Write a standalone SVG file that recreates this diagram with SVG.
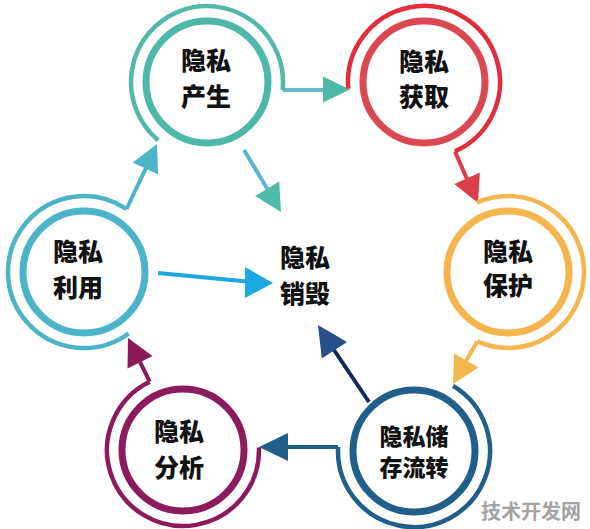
<svg xmlns="http://www.w3.org/2000/svg" width="590" height="529" viewBox="0 0 590 529">
<style>
.lbl{font-family:"Noto Sans CJK SC","Noto Sans",sans-serif;font-weight:900;font-size:25px;fill:#111;text-anchor:middle}
.out{fill:none;stroke-width:4.5;stroke-linecap:butt}
.in{fill:none;stroke-width:7}
.ln{fill:none;stroke-width:4}
.wm{font-family:"Noto Sans CJK SC","Noto Sans",sans-serif;font-weight:700;font-size:20px;fill:#a3a3a3;text-anchor:start}
</style>
<rect width="590" height="529" fill="#fff"/>
<g id="connectors">
  <!-- 产生 -> 获取 -->
  <path class="ln" d="M282.6,89.9 L325,89.9" stroke="#62BBC7"/>
  <polygon points="323,76.5 350,89.5 323,102.5" fill="#4DB8A3"/>
  <!-- 获取 -> 保护 -->
  <path class="ln" d="M454.9,151.4 L467,179" stroke="#DC3E4A"/>
  <polygon points="479.9,172.6 478,203 454.3,184" fill="#DC3E4A"/>
  <!-- 保护 -> 储存流转 -->
  <path class="ln" d="M477.1,341.4 L466,361" stroke="#F4B54C"/>
  <polygon points="478.5,367.4 453,384 454.1,353.6" fill="#F4B54C"/>
  <!-- 储存流转 -> 分析 -->
  <path class="ln" d="M338.1,447 L286,447" stroke="#1F5F89"/>
  <polygon points="288,433 259,447 288,461" fill="#1F5F89"/>
  <!-- 分析 -> 利用 -->
  <path class="ln" d="M149.7,381.7 L140,362" stroke="#8C1B5B"/>
  <polygon points="152.5,356 128,338 127.5,368.4" fill="#8C1B5B"/>
  <!-- 利用 -> 产生 -->
  <path class="ln" d="M126.5,209 L146,168" stroke="#4BB4C9"/>
  <polygon points="158.2,174.4 157,144 132.8,162.5" fill="#4BB4C9"/>
  <!-- 产生 -> 销毁 -->
  <path class="ln" d="M244,150 L268,190" stroke="#5CB3CF"/>
  <polygon points="279.2,181.6 281,212 255.2,196" fill="#4DBAA6"/>
  <!-- 利用 -> 销毁 -->
  <path class="ln" d="M158,273 L247,281.5" stroke="#1AA8E2"/>
  <polygon points="245,267 273,283 245,298" fill="#1AA8E2"/>
  <!-- 储存流转 -> 销毁 -->
  <path class="ln" d="M369,402 L334,350" stroke="#16285A"/>
  <polygon points="347,342 318,325 321.8,358.4" fill="#274F8B"/>
</g>
<g id="node-chansheng">
  <circle class="in" cx="207" cy="82" r="61" stroke="#4DB8A6"/>
  <path class="out" d="M158.1,140.2 A76,76 0 1 1 282.6,89.9" stroke="#52B9A8"/>
  <text class="lbl" x="206" y="70">隐私</text>
  <text class="lbl" x="206" y="106">产生</text>
</g>
<g id="node-huoqu">
  <circle class="in" cx="424" cy="82" r="61" stroke="#DC4851"/>
  <path class="out" d="M348.3,88.6 A76,76 0 1 1 454.9,151.4" stroke="#E22E3C"/>
  <text class="lbl" x="424" y="71">隐私</text>
  <text class="lbl" x="424" y="106">获取</text>
</g>
<g id="node-baohu">
  <circle class="in" cx="508" cy="272" r="61" stroke="#F4B54C"/>
  <path class="out" d="M477.1,202.6 A76,76 0 1 1 477.1,341.4" stroke="#F4B54C"/>
  <text class="lbl" x="508" y="261">隐私</text>
  <text class="lbl" x="508" y="295">保护</text>
</g>
<g id="node-cunchu">
  <circle class="in" cx="414" cy="451" r="61" stroke="#1F5F89"/>
  <path class="out" d="M453.1,385.9 A76,76 0 1 1 338.1,447" stroke="#1F5F89"/>
  <text class="lbl" x="414" y="445" style="font-size:23px">隐私储</text>
  <text class="lbl" x="414" y="476" style="font-size:23px">存流转</text>
</g>
<g id="node-fenxi">
  <circle class="in" cx="183" cy="450" r="61" stroke="#8C1B5B"/>
  <path class="out" d="M258.95,447.3 A76,76 0 1 1 149.7,381.7" stroke="#8C1B5B"/>
  <text class="lbl" x="179" y="441">隐私</text>
  <text class="lbl" x="179" y="477">分析</text>
</g>
<g id="node-liyong">
  <circle class="in" cx="84" cy="272" r="61" stroke="#4BB4C9"/>
  <path class="out" d="M128.7,333.5 A76,76 0 1 1 126.5,209" stroke="#4BB4C9"/>
  <text class="lbl" x="78" y="261">隐私</text>
  <text class="lbl" x="78" y="297">利用</text>
</g>
<g id="node-xiaohui">
  <text class="lbl" x="305" y="267">隐私</text>
  <text class="lbl" x="305" y="303">销毁</text>
</g>
<text class="wm" x="481" y="519">技术开发网</text>
</svg>
